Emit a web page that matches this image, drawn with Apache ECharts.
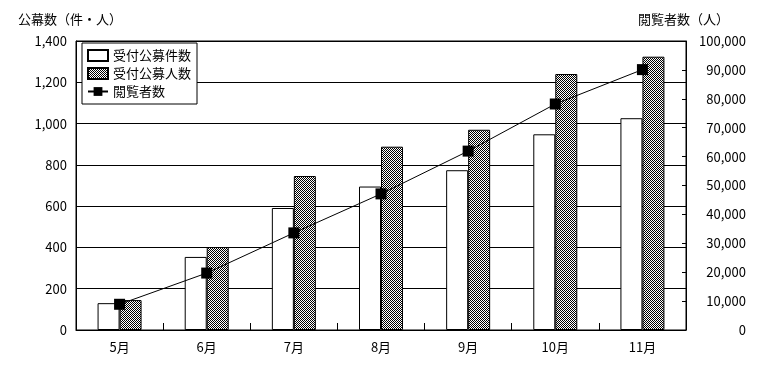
<!DOCTYPE html>
<html><head><meta charset="utf-8">
<script src="https://cdn.jsdelivr.net/npm/echarts@6/dist/echarts.min.js"></script>
<style>html,body{margin:0;padding:0;background:#fff}#c{width:765px;height:369px}</style>
</head><body><div id="c"></div>
<script>
const categories = ['5月','6月','7月','8月','9月','10月','11月'];
const applications = [130, 354, 591, 695, 774, 948, 1026];
const applicants = [145, 402, 746, 888, 970, 1240, 1324];
const viewers = [8900, 19700, 33600, 47100, 61900, 78200, 90100];
const seriesNames = ['受付公募件数','受付公募人数','閲覧者数'];
const leftAxisName = '公幕数（件・人）';
const rightAxisName = '閲覧者数（人）';

const FONT = '"Noto Sans CJK JP", sans-serif';
const pc = document.createElement('canvas');
pc.width = 2; pc.height = 2;
const pctx = pc.getContext('2d');
pctx.fillStyle = '#fff'; pctx.fillRect(0,0,2,2);
pctx.fillStyle = '#000'; pctx.fillRect(0,0,1,1); pctx.fillRect(1,1,1,1);
const pattern = {image: pc, repeat: 'repeat'};
const fmt = v => v.toLocaleString('en-US');

const chart = echarts.init(document.getElementById('c'), null, {renderer: 'canvas'});
chart.setOption({
  animation: false,
  textStyle: {fontFamily: FONT, color: '#000'},
  grid: {left: 76, right: 79, top: 41, bottom: 39, show: true, borderColor: '#000', borderWidth: 1},
  legend: {
    orient: 'vertical', left: 82, top: 43,
    padding: [6, 6, 6, 5], itemGap: 5, itemWidth: 20, itemHeight: 11,
    borderColor: '#000', borderWidth: 1, backgroundColor: '#fff',
    textStyle: {fontFamily: FONT, fontSize: 13, color: '#000'},
    data: [
      {name: seriesNames[0], icon: 'rect'},
      {name: seriesNames[1], icon: 'rect'},
      {name: seriesNames[2]}
    ]
  },
  graphic: [
    {type: 'text', left: 18, top: 13, style: {text: leftAxisName, font: '13px ' + FONT, fill: '#000'}},
    {type: 'text', left: 638, top: 13, style: {text: rightAxisName, font: '13px ' + FONT, fill: '#000'}}
  ],
  xAxis: {
    type: 'category', data: categories,
    axisLine: {lineStyle: {color: '#000'}},
    axisTick: {show: true, inside: true, length: 7, lineStyle: {color: '#000'}},
    axisLabel: {color: '#000', fontSize: 13, margin: 11, fontFamily: FONT}
  },
  yAxis: [
    {type: 'value', min: 0, max: 1400, interval: 200,
     axisLine: {show: true, lineStyle: {color: '#000'}},
     axisTick: {show: false},
     axisLabel: {color: '#000', fontSize: 13, margin: 9, formatter: fmt, fontFamily: FONT},
     splitLine: {show: true, lineStyle: {color: '#000', width: 1}}},
    {type: 'value', min: 0, max: 100000, interval: 10000, position: 'right',
     axisLine: {show: true, lineStyle: {color: '#000'}},
     axisTick: {show: true, inside: true, length: 4, lineStyle: {color: '#000'}},
     axisLabel: {color: '#000', fontSize: 13, margin: 60, align: 'right', formatter: fmt, fontFamily: FONT},
     splitLine: {show: false}}
  ],
  series: [
    {name: seriesNames[0], type: 'bar', data: applications, barWidth: 22, barGap: '0%',
     itemStyle: {color: '#fff', borderColor: '#000', borderWidth: 1}},
    {name: seriesNames[1], type: 'bar', data: applicants, barWidth: 22,
     itemStyle: {color: pattern, borderColor: '#000', borderWidth: 1}},
    {name: seriesNames[2], type: 'line', yAxisIndex: 1, data: viewers, z: 5,
     symbol: 'rect', symbolSize: 11, showSymbol: true,
     lineStyle: {color: '#000', width: 1}, itemStyle: {color: '#000'}}
  ]
});
</script></body></html>
